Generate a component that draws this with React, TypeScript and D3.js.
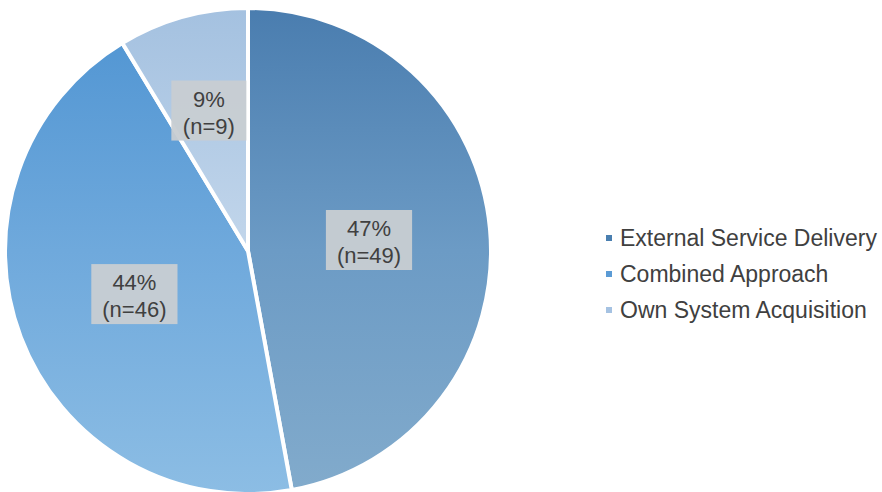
import React from "react";
import * as d3 from "d3";

const categories = ["External Service Delivery", "Combined Approach", "Own System Acquisition"];
const counts = [49, 46, 9];
const percents = [47, 44, 9];
const topColors = ["#4a7daf", "#4f94d2", "#a4c1e0"];
const midColors = ["#6c9bc5", "#6fa9dc", "#c2d6eb"];
const bottomColors = ["#82abcc", "#8cbde4", "#d0e0f0"];
const legendColors = ["#4a7fb0", "#5b9bd5", "#a5c2e2"];

const W = 882;
const H = 492;
const cx = 248;
const cy = 251;
const R = 243;

export default function App() {
  const pie = d3.pie<number>().value((d) => d).sort(null);
  const arcs = pie(counts);
  const arcGen = d3.arc<d3.PieArcDatum<number>>().innerRadius(0).outerRadius(R);
  const fontFam = "'Liberation Sans', Arial, sans-serif";
  return (
    <svg width={W} height={H} style={{ position: "absolute", left: 0, top: 0, background: "#fff" }}>
      <defs>
        {categories.map((c, i) => (
          <linearGradient key={c} id={`g${i}`} gradientUnits="userSpaceOnUse" x1={0} y1={-R} x2={0} y2={R}>
            <stop offset="0%" stopColor={topColors[i]} />
            <stop offset="50%" stopColor={midColors[i]} />
            <stop offset="100%" stopColor={bottomColors[i]} />
          </linearGradient>
        ))}
      </defs>
      <g transform={`translate(${cx},${cy})`}>
        {arcs.map((a, i) => (
          <path key={i} d={arcGen(a) || ""} fill={`url(#g${i})`} stroke="#fff" strokeWidth={4} strokeLinejoin="round" />
        ))}
        {arcs.map((a, i) => {
          const share = (a.endAngle - a.startAngle) / (2 * Math.PI);
          const lr = share < 0.15 ? R * 0.6 : R * 0.5;
          const mid = (a.startAngle + a.endAngle) / 2;
          const x = Math.sin(mid) * lr;
          const y = -Math.cos(mid) * lr;
          const l1 = `${percents[i]}%`;
          const l2 = `(n=${counts[i]})`;
          const bw = l2.length * 11.2 + 19;
          const bh = 60;
          return (
            <g key={`l${i}`} transform={`translate(${x},${y})`}>
              <rect x={-bw / 2} y={-bh / 2} width={bw} height={bh} fill="#c8cdd2" fillOpacity={0.95} />
              <text x={0} y={-4} textAnchor="middle" fontFamily={fontFam} fontSize={22} fill="#404040">{l1}</text>
              <text x={0} y={23} textAnchor="middle" fontFamily={fontFam} fontSize={22} fill="#404040">{l2}</text>
            </g>
          );
        })}
      </g>
      <g>
        {categories.map((c, i) => (
          <g key={c} transform={`translate(606,${238 + i * 36})`}>
            <rect x={0} y={-3} width={6} height={6} fill={legendColors[i]} />
            <text x={14} y={8} fontFamily={fontFam} fontSize={23} fill="#404040">{c}</text>
          </g>
        ))}
      </g>
    </svg>
  );
}
